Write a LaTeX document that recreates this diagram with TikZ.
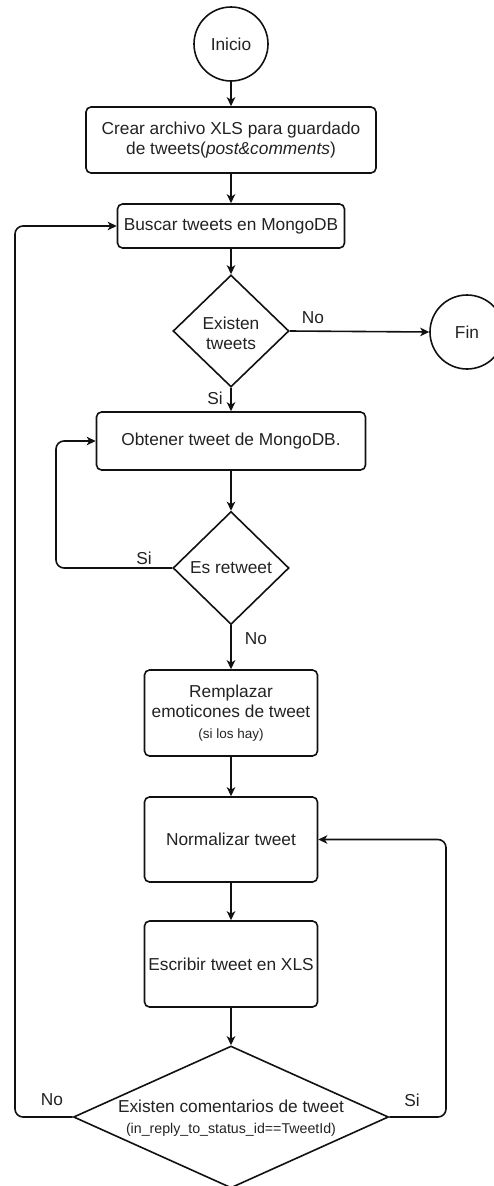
\documentclass[tikz,border=0pt]{standalone}
\usepackage{fontspec}
\setmainfont{Liberation Sans}
\usetikzlibrary{arrows.meta,shapes.geometric}
\definecolor{ink}{HTML}{222222}
\definecolor{edge}{HTML}{111111}
\newcommand{\bigf}{\fontsize{17.3}{20}\selectfont}
\newcommand{\smallf}{\fontsize{13.5}{16}\selectfont}
\newcommand{\tinyf}{\fontsize{14.2}{16}\selectfont}
\begin{document}
\begin{tikzpicture}[x=1pt,y=-1pt,
  line width=1.6pt, draw=edge,
  proc/.style={draw, rounded corners=5pt, inner sep=0pt, align=center, font=\bigf, text=ink},
  term/.style={draw, circle, inner sep=0pt, minimum size=74pt, font=\bigf, text=ink},
  dia/.style={draw, diamond, inner sep=0pt},
  txt/.style={align=center, font=\bigf, text=ink, inner sep=0pt},
  lbl/.style={font=\bigf, text=ink, inner sep=0pt},
  arr/.style={-{Stealth[length=9pt,width=8.5pt,inset=2.5pt]}, rounded corners=8pt}
]
\useasboundingbox (0,0) rectangle (494,1186);

\node[term] (inicio) at (231,44) {Inicio};
\node[proc, minimum width=290pt, minimum height=66pt] (crear) at (231,140)
  {Crear archivo XLS para guardado\\de tweets(\textit{post\&comments})};
\node[proc, minimum width=227pt, minimum height=44pt] (buscar) at (231,226) {Buscar tweets en MongoDB};
\node[dia, minimum width=116pt, minimum height=112pt] (q1) at (231,331) {};
\node[txt] (q1t) at (231,333) {Existen\\tweets};
\node[term] (fin) at (467,332) {Fin};
\node[proc, minimum width=269pt, minimum height=58pt] (obtener) at (231,441) {Obtener tweet de MongoDB.};
\node[dia, minimum width=116pt, minimum height=113pt] (q2) at (231,568) {};
\node[txt] (q2t) at (231,568) {Es retweet};
\node[proc, minimum width=173pt, minimum height=86pt] (rempl) at (231,713)
  {Remplazar\\emoticones de tweet\\[1pt]{\smallf (si los hay)}};
\node[proc, minimum width=173pt, minimum height=85pt] (norm) at (231,839.5) {Normalizar tweet};
\node[proc, minimum width=173pt, minimum height=86pt] (escr) at (231,964) {Escribir tweet en XLS};
\node[dia, minimum width=315pt, minimum height=142pt] (q3) at (231,1117) {};
\node[txt] (q3t) at (231,1118) {Existen comentarios de tweet\\[1pt]{\tinyf (in\_reply\_to\_status\_id==TweetId)}};

\coordinate (l2) at (56,441);
\coordinate (l3) at (15,226);
\coordinate (r3) at (446,839.5);

\draw[arr] (inicio) -- (crear);
\draw[arr] (crear) -- (buscar);
\draw[arr] (buscar) -- (q1);
\draw[arr] (q1.east) -- (fin.west);
\draw[arr] (q1.south) -- (obtener.north);
\draw[arr] (obtener) -- (q2);
\draw[arr] (q2.west) -| (l2) -- (obtener.west);
\draw[arr] (q2.south) -- (rempl.north);
\draw[arr] (rempl) -- (norm);
\draw[arr] (norm) -- (escr);
\draw[arr] (escr) -- (q3.north);
\draw[arr] (q3.west) -| (l3) -- (buscar.west);
\draw[arr] (q3.east) -| (r3) -- (norm.east);

\node[lbl] (lno1) at (313,318) {No};
\node[lbl] (lsi1) at (215,398) {Si};
\node[lbl] (lsi2) at (144,558) {Si};
\node[lbl] (lno2) at (256,639) {No};
\node[lbl] (lno3) at (52,1100) {No};
\node[lbl] (lsi3) at (412,1100) {Si};
\end{tikzpicture}
\end{document}
